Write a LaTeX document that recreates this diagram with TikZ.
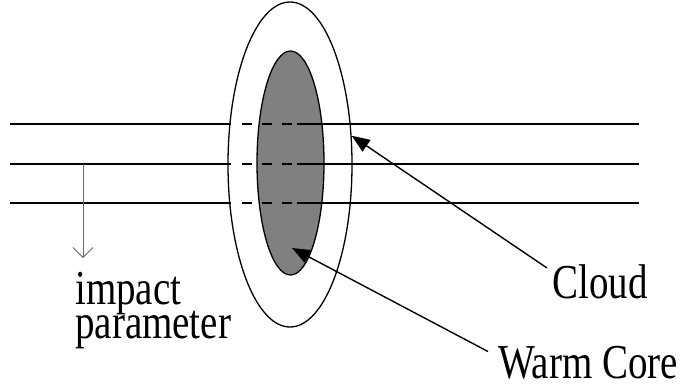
\documentclass[tikz,border=0pt]{standalone}
\usepackage{fontspec}
\setmainfont{Liberation Serif}
\usepackage{tikz}
\usetikzlibrary{positioning}
\usetikzlibrary{shapes.geometric}
\usetikzlibrary{arrows.meta}

\begin{document}
\begin{tikzpicture}[
		  x=1pt, y=-1pt,
		  region/.style = {shape=ellipse, draw, line width=1.3pt, inner sep=0pt},
		  labeltext/.style = {anchor=base west, inner sep=0pt, font=\fontsize{39}{40}\selectfont},
		  sightline/.style = {line width=1.8pt},
		  pointer/.style = {line width=1.4pt, -{Triangle[length=18pt,width=14pt]}}
		]
	  \useasboundingbox (0,0) rectangle (683,386);

	  \node[region, fill=white, minimum width=124pt, minimum height=325pt] (cloud) at (290,164.5) {};
	  \node[region, fill=black!50, minimum width=67pt, minimum height=224pt] (core) at (290.5,163) {};

	  \foreach \y in {124,164,203} {
		\draw[sightline] (10,\y) -- (231,\y);
		\draw[sightline, dash pattern=on 10pt off 10pt, dash phase=10pt] (232,\y) -- (292,\y);
		\draw[sightline] (297,\y) -- (639,\y);
	  }

	  \node[labeltext] (impactlbl) at (75,338) {\scalebox{1}[1.25]{\vbox{\baselineskip=27.2pt \lineskiplimit=-100pt
		\hbox{impact}\hbox{parameter}}}};
	  \node[labeltext] (cloudlbl) at (552,298) {\scalebox{1}[1.25]{Cloud}};
	  \node[labeltext] (corelbl) at (498,378) {\scalebox{1}[1.25]{Warm Core}};

	  \coordinate (ipstart) at (83,164);
	  \coordinate (ipend) at (83,258);
	  \coordinate (coretip) at (292,248);

	  \draw[black!60, line width=0.8pt, -{Straight Barb[length=10pt,width=20pt]}] (ipstart) -- (ipend);
	  \draw[pointer] ([shift={(-5pt,-4pt)}]cloudlbl.north west) -- (cloud.25);
	  \draw[pointer] ([shift={(-10pt,-6pt)}]corelbl.north west) -- (coretip);
		\end{tikzpicture}
\end{document}
